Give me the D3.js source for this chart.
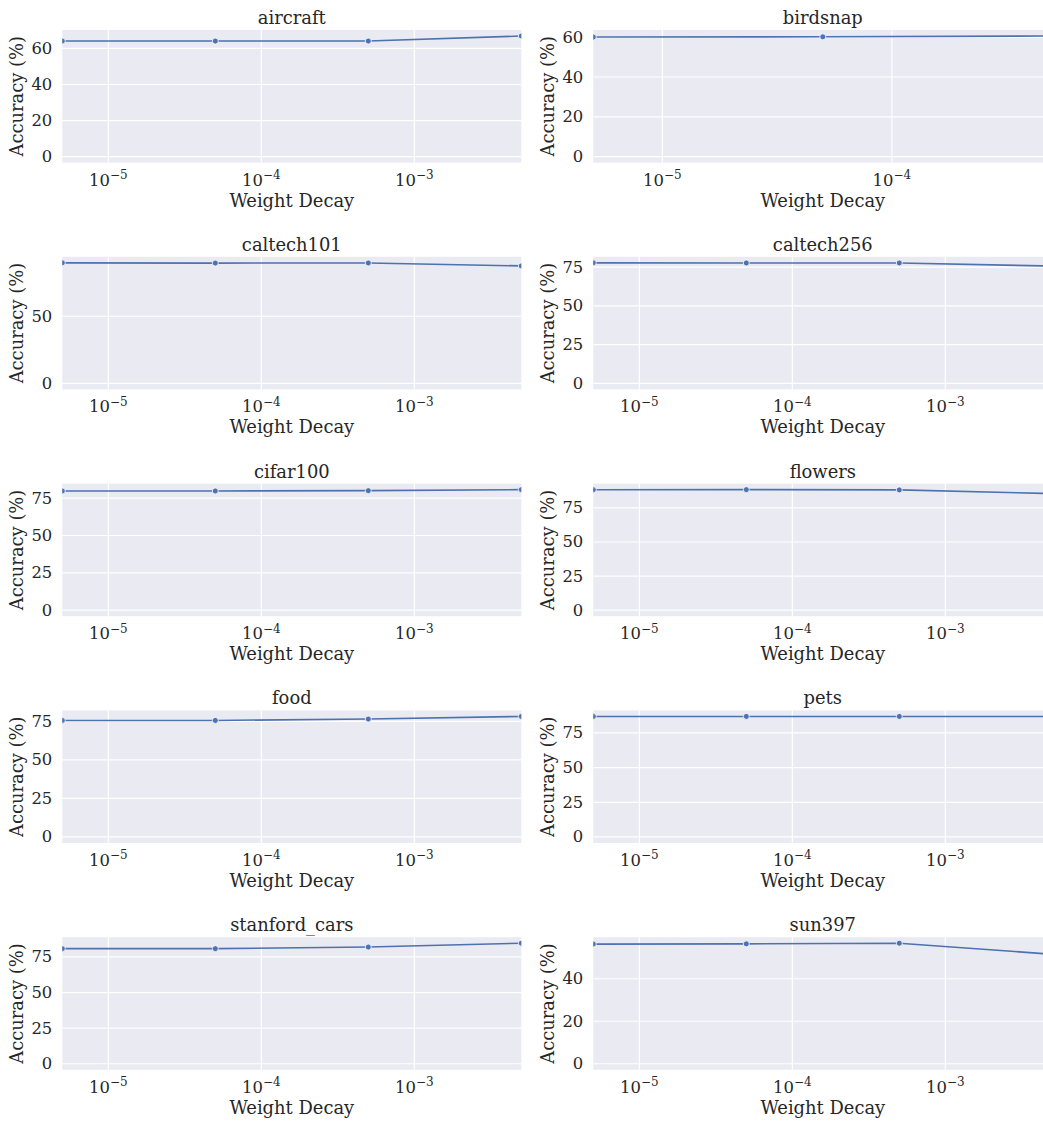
<!DOCTYPE html>
<html>
<head>
<meta charset="utf-8">
<script src="https://cdn.jsdelivr.net/npm/d3@7"></script>
<style>
  body { margin: 0; background: #fff; }
  svg { display: block; font-family: "DejaVu Serif", serif; }
</style>
</head>
<body>
<svg id="chart"></svg>
<script>
// accuracy (%) per dataset
const datasets = ["aircraft", "birdsnap", "caltech101", "caltech256", "cifar100",
                  "flowers", "food", "pets", "stanford_cars", "sun397"];
const decays = [5e-6, 5e-5, 5e-4, 5e-3];

const aircraft     = [64.1, 64.1, 64.1, 66.9];
const birdsnap     = [60.1, 60.2, 60.6];
const caltech101   = [89.8, 89.6, 89.7, 87.5];
const caltech256   = [77.8, 77.7, 77.7, 75.7];
const cifar100     = [79.8, 79.8, 80.0, 80.7];
const flowers      = [88.3, 88.4, 88.2, 85.5];
const food         = [75.6, 75.6, 76.5, 78.2];
const pets         = [86.9, 86.9, 86.9, 86.8];
const stanfordCars = [80.8, 80.8, 81.9, 84.6];
const sun397       = [56.3, 56.4, 56.7, 51.5];

const seriesList = [aircraft, birdsnap, caltech101, caltech256, cifar100,
                    flowers, food, pets, stanfordCars, sun397];

const yTicks = [
  [0, 20, 40, 60], [0, 20, 40, 60], [0, 50], [0, 25, 50, 75], [0, 25, 50, 75],
  [0, 25, 50, 75], [0, 25, 50, 75], [0, 25, 50, 75], [0, 25, 50, 75], [0, 20, 40]
];
const xTicks = [1e-5, 1e-4, 1e-3];

const W = 1043, H = 1123;
const axW = 459, axH = 132.6;
const colX = [62.3, 593.3];
const rowY = i => 30 + i * 226.8;

const svg = d3.select("#chart").attr("width", W).attr("height", H);
const ink = "#262626";
const blue = "#4C72B0";
const tickSize = 16.4, labelSize = 17.9;

datasets.forEach((name, i) => {
  const vals = seriesList[i];
  const pts = vals.map((v, j) => ({ x: decays[j], y: v }));
  const x0 = colX[i % 2], y0 = rowY(Math.floor(i / 2));

  const x = d3.scaleLog()
    .domain(d3.extent(pts, d => d.x))
    .range([0, axW]);
  const ymax = d3.max(vals);
  const y = d3.scaleLinear()
    .domain([-0.05 * ymax, 1.05 * ymax])
    .range([axH, 0]);
  const xShown = xTicks.filter(t => t >= x.domain()[0] && t <= x.domain()[1]);

  const g = svg.append("g").attr("transform", `translate(${x0},${y0})`);

  g.append("rect")
    .attr("width", axW).attr("height", axH)
    .attr("fill", "#EAEAF2");

  g.append("clipPath").attr("id", "clip" + i)
    .append("rect").attr("width", axW).attr("height", axH);

  // grid
  g.append("g")
    .selectAll("line")
    .data(xShown)
    .join("line")
    .attr("x1", d => x(d)).attr("x2", d => x(d))
    .attr("y1", 0).attr("y2", axH)
    .attr("stroke", "#fff").attr("stroke-width", 1.2);

  g.append("g")
    .selectAll("line")
    .data(yTicks[i])
    .join("line")
    .attr("x1", 0).attr("x2", axW)
    .attr("y1", d => y(d)).attr("y2", d => y(d))
    .attr("stroke", "#fff").attr("stroke-width", 1.2);

  // y tick labels
  g.append("g")
    .selectAll("text")
    .data(yTicks[i])
    .join("text")
    .attr("x", -10).attr("y", d => y(d))
    .attr("text-anchor", "end")
    .attr("dominant-baseline", "central")
    .attr("font-size", tickSize).attr("fill", ink)
    .text(d => d);

  // x tick labels, 10^n
  const xt = g.append("g")
    .selectAll("text")
    .data(xShown)
    .join("text")
    .attr("x", d => x(d)).attr("y", axH + 23)
    .attr("text-anchor", "middle")
    .attr("font-size", tickSize).attr("fill", ink);
  xt.append("tspan").text("10");
  xt.append("tspan")
    .attr("dy", -6.5).attr("font-size", 12)
    .text(d => "\u2212" + Math.round(-Math.log10(d)));

  // line + markers
  const plot = g.append("g").attr("clip-path", `url(#clip${i})`);
  plot.append("path")
    .datum(pts)
    .attr("fill", "none")
    .attr("stroke", blue).attr("stroke-width", 1.6)
    .attr("d", d3.line().x(d => x(d.x)).y(d => y(d.y)));
  plot.selectAll("circle")
    .data(pts)
    .join("circle")
    .attr("cx", d => x(d.x)).attr("cy", d => y(d.y))
    .attr("r", 3)
    .attr("fill", blue).attr("stroke", "#fff").attr("stroke-width", 0.8);

  // title and axis labels
  g.append("text")
    .attr("x", axW / 2).attr("y", -6)
    .attr("text-anchor", "middle")
    .attr("font-size", labelSize).attr("fill", ink)
    .text(name);

  g.append("text")
    .attr("x", axW / 2).attr("y", axH + 44)
    .attr("text-anchor", "middle")
    .attr("font-size", labelSize).attr("fill", ink)
    .text("Weight Decay");

  g.append("text")
    .attr("transform", `translate(${-39},${axH / 2}) rotate(-90)`)
    .attr("text-anchor", "middle")
    .attr("font-size", labelSize).attr("fill", ink)
    .text("Accuracy (%)");
});
</script>
</body>
</html>
